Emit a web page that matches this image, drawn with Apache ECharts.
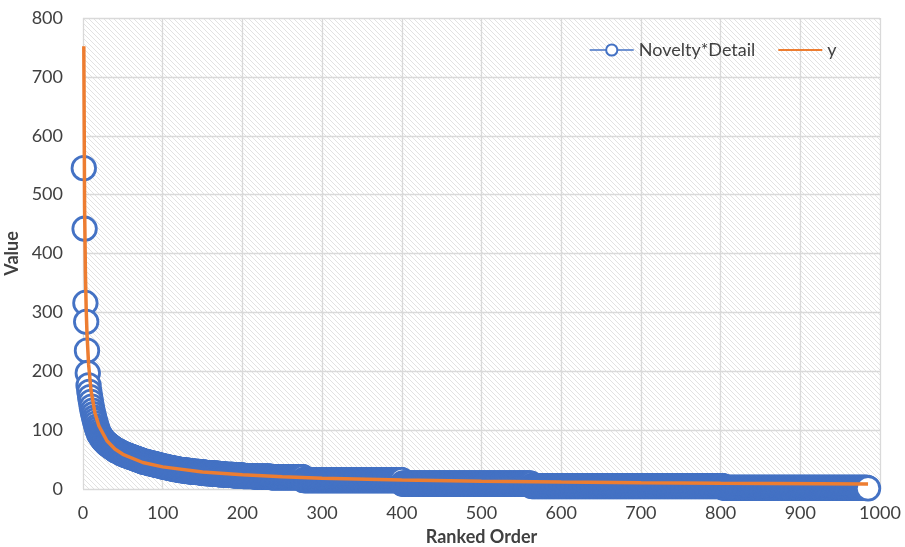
<!DOCTYPE html>
<html>
<head>
<meta charset="utf-8">
<script src="https://cdn.jsdelivr.net/npm/echarts@6/dist/echarts.min.js"></script>
<style>
html,body{margin:0;padding:0;background:#fff;}
#chart{width:905px;height:547px;}
</style>
</head>
<body>
<div id="chart"></div>
<script>
// ---- data ----
// Novelty*Detail values for ranks 1..30 (one value per rank)
const headValues = [545, 442, 316, 284, 235, 197, 176, 165, 156, 148, 140, 133, 127, 121, 116, 111, 106, 102, 98, 94, 92, 90, 88, 86, 84, 82, 81, 80, 78, 77];
// after rank 30: value held until the given rank (ties in the ranked list)
const runValues   = [76, 75, 74, 73, 72, 71, 70, 69, 68, 67, 66, 65, 64, 63, 62, 61, 60, 59, 58, 57, 56, 55, 54, 53, 52, 51, 50, 49, 48, 47, 46, 45, 44, 43, 42, 41, 40, 39, 38, 37, 36, 35, 34, 33, 32, 31, 30, 29, 28, 27, 26, 25, 24, 23, 22, 21, 20, 15, 9, 5, 2, 1];
const runEndRanks = [31, 32, 33, 34, 35, 36, 37, 38, 39, 40, 41, 43, 45, 46, 47, 49, 50, 52, 54, 56, 58, 60, 62, 64, 66, 68, 70, 72, 74, 76, 79, 82, 85, 88, 91, 94, 97, 100, 103, 106, 110, 113, 117, 121, 126, 132, 138, 145, 152, 160, 169, 178, 188, 200, 215, 235, 276, 400, 562, 803, 984, 985];
// fitted curve "y" read at these ranks
const fitRanks  = [1, 2, 3, 4, 5, 7, 10, 15, 20, 30, 40, 50, 75, 100, 150, 200, 250, 300, 400, 500, 600, 700, 800, 985];
const fitValues = [752, 480, 369, 306, 264, 212, 168, 129, 107, 82, 68, 59, 45, 37.6, 28.9, 24, 20.7, 18.4, 15.3, 13.2, 11.7, 10.6, 9.7, 8.5];
const xTicks = {min: 0, max: 1000, interval: 100};
const yTicks = {min: 0, max: 800, interval: 100};
const seriesNames = ['Novelty*Detail', 'y'];

// ---- build series data ----
const scatterData = [];
headValues.forEach((v, i) => scatterData.push([i + 1, v]));
let rank = headValues.length;
runValues.forEach((v, i) => {
  while (rank < runEndRanks[i]) { rank++; scatterData.push([rank, v]); }
});
const fitData = fitRanks.map((r, i) => [r, fitValues[i]]);

// hatch pattern for plot background
const tile = document.createElement('canvas');
tile.width = 5; tile.height = 5;
const g = tile.getContext('2d');
g.fillStyle = '#ffffff'; g.fillRect(0, 0, 5, 5);
g.strokeStyle = '#e2e2e2'; g.lineWidth = 1;
g.beginPath();
g.moveTo(-1, -1); g.lineTo(6, 6);
g.moveTo(4, -1); g.lineTo(6, 1);
g.moveTo(-1, 4); g.lineTo(1, 6);
g.stroke();

const FONT = 'Lato, "Open Sans", sans-serif';
const chart = echarts.init(document.getElementById('chart'), null, {renderer: 'canvas'});
chart.setOption({
  animation: false,
  backgroundColor: '#ffffff',
  grid: {
    left: 83, right: 25, top: 18, bottom: 58,
    containLabel: false, outerBoundsMode: 'none',
    show: true, borderWidth: 0,
    backgroundColor: {image: tile, repeat: 'repeat'}
  },
  legend: {
    left: 584, top: 36,
    itemGap: 22, itemWidth: 44, itemHeight: 14,
    textStyle: {fontFamily: FONT, fontSize: 18, color: '#404040'},
    data: [
      {name: seriesNames[0], lineStyle: {width: 1.5, color: '#4472C4', opacity: 1}},
      {name: seriesNames[1], itemStyle: {opacity: 0}}
    ]
  },
  xAxis: {
    type: 'value', min: xTicks.min, max: xTicks.max, interval: xTicks.interval,
    name: 'Ranked Order', nameLocation: 'middle', nameGap: 39,
    nameTextStyle: {fontFamily: FONT, fontSize: 18, fontWeight: 'bold', color: '#404040'},
    axisLine: {show: false}, axisTick: {show: false},
    axisLabel: {fontFamily: FONT, fontSize: 18, color: '#404040', margin: 15, formatter: v => String(v)},
    splitLine: {show: true, lineStyle: {color: '#d9d9d9', width: 1.3}}
  },
  yAxis: {
    type: 'value', min: yTicks.min, max: yTicks.max, interval: yTicks.interval,
    name: 'Value', nameLocation: 'middle', nameGap: 56, nameRotate: 90,
    nameTextStyle: {fontFamily: FONT, fontSize: 18, fontWeight: 'bold', color: '#404040'},
    axisLine: {show: false}, axisTick: {show: false},
    axisLabel: {fontFamily: FONT, fontSize: 18, color: '#404040', margin: 20, formatter: v => String(v)},
    splitLine: {show: true, lineStyle: {color: '#d9d9d9', width: 1.3}}
  },
  series: [
    {
      name: seriesNames[0], type: 'line', data: scatterData,
      symbol: 'circle', symbolSize: 23.5, showSymbol: true, showAllSymbol: true,
      lineStyle: {width: 0, opacity: 0},
      itemStyle: {color: '#ffffff', borderColor: '#4472C4', borderWidth: 2.8},
      emphasis: {disabled: true}, z: 2
    },
    {
      name: seriesNames[1], type: 'line', data: fitData,
      symbol: 'none', smooth: false,
      lineStyle: {width: 3.5, color: '#ED7D31'},
      itemStyle: {color: '#ED7D31'},
      emphasis: {disabled: true}, z: 5
    }
  ]
});
</script>
</body>
</html>
